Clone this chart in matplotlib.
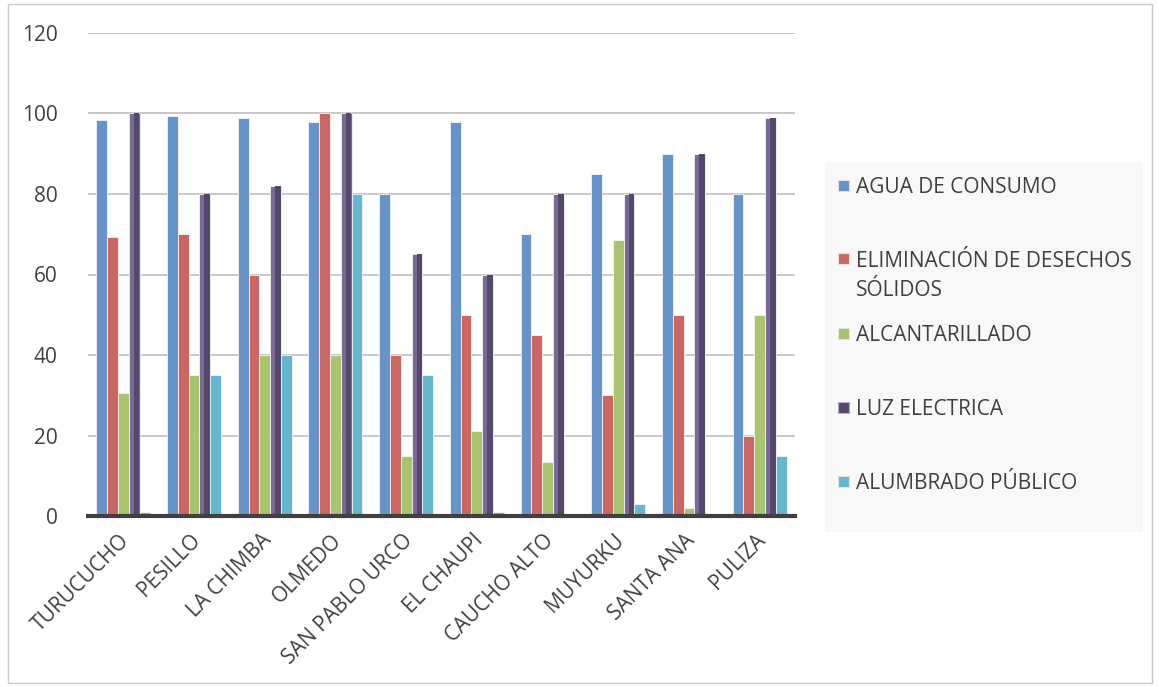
import matplotlib
matplotlib.use("Agg")
import matplotlib.pyplot as plt
from matplotlib.patches import Rectangle
import numpy as np

plt.rcParams['font.family'] = ['Open Sans', 'DejaVu Sans']

categories = ["TURUCUCHO", "PESILLO", "LA CHIMBA", "OLMEDO", "SAN PABLO URCO",
              "EL CHAUPI", "CAUCHO ALTO", "MUYURKU", "SANTA ANA", "PULIZA"]
series_names = ["AGUA DE CONSUMO", "ELIMINACIÓN DE DESECHOS\nSÓLIDOS", "ALCANTARILLADO",
                "LUZ ELECTRICA", "ALUMBRADO PÚBLICO"]
agua = [98.4, 99.4, 98.8, 97.9, 80, 98, 70, 85, 90, 80]
desechos = [69.4, 70, 60, 100, 40, 50, 45, 30, 50, 20]
alcantarillado = [30.5, 35, 40, 40, 15, 21, 13.3, 68.6, 2, 50]
luz = [100, 80, 82, 100, 65, 60, 80, 80, 90, 99]
alumbrado = [1, 35, 40, 80, 35, 1, 0, 3, 0, 15]
yticks = [0, 20, 40, 60, 80, 100, 120]

series = [agua, desechos, alcantarillado, luz, alumbrado]
colors = ["#6794C8", "#CC6662", "#A9C46E", "#7A6993", "#63B8CF"]

W, H = 1159, 687
fig = plt.figure(figsize=(W/100, H/100), dpi=100)
ax = fig.add_axes([88/W, 1-516/H, (795-88)/W, (516-33)/H])

x = np.arange(len(categories))
w = 0.153
for i, (vals, c) in enumerate(zip(series, colors)):
    offs = (i - 2) * w
    ax.bar(x + offs, vals, width=w, color=c, edgecolor="#F4F4F4", linewidth=0.6,
           zorder=3)
    if i == 3:
        # darker right shading to mimic 3D bevel
        ax.bar(x + offs + w*0.22, vals, width=w*0.52, color="#56476C", linewidth=0, zorder=4)

ax.set_xlim(-0.5, len(categories) - 0.5)
ax.set_ylim(0, 120)
ax.set_yticks(yticks)
ax.yaxis.grid(True, color="#BFBFBF", linewidth=1.2, zorder=0)
ax.set_axisbelow(True)
for s in ["left", "right", "top"]:
    ax.spines[s].set_visible(False)
ax.spines["bottom"].set_color("#404040")
ax.spines["bottom"].set_linewidth(3)
ax.spines["bottom"].set_zorder(5)
ax.tick_params(axis="both", length=0, labelsize=15, colors="#404040")
ax.tick_params(axis="y", pad=22)
ax.set_xticks(x - 0.06)
ax.set_xticklabels(categories, rotation=45, ha="right", rotation_mode="anchor")
ax.tick_params(axis="x", pad=10)

# legend: background box + manually placed entries
fig.patches.append(Rectangle((825/W, 1-532/H), (1143-825)/W, (532-162)/H,
                             transform=fig.transFigure, facecolor="#F8F8F8",
                             edgecolor="none", zorder=0))
entry_y = [185, 259, 333, 407, 481]
line_gap = 29
for name, c, yy in zip(series_names, colors, entry_y):
    fc, ec = (c, "#E2E2E2")
    if c == colors[3]:
        fc, ec = ("#56476C", "#B8A8D0")
    fig.patches.append(Rectangle((838/W, 1-(yy+5.5)/H), 11/W, 11/H,
                                 transform=fig.transFigure, facecolor=fc,
                                 edgecolor=ec, linewidth=0.8, zorder=2))
    for k, line in enumerate(name.split("\n")):
        fig.text(856/W, 1-(yy + k*line_gap)/H, line, fontsize=15, color="#404040",
                 ha="left", va="center_baseline")

fig.patches.append(Rectangle((8/W, 4/H), 1144/W, 679/H, transform=fig.transFigure,
                             fill=False, edgecolor="#C8C8C8", linewidth=1))

fig.savefig("out.png", dpi=100)
